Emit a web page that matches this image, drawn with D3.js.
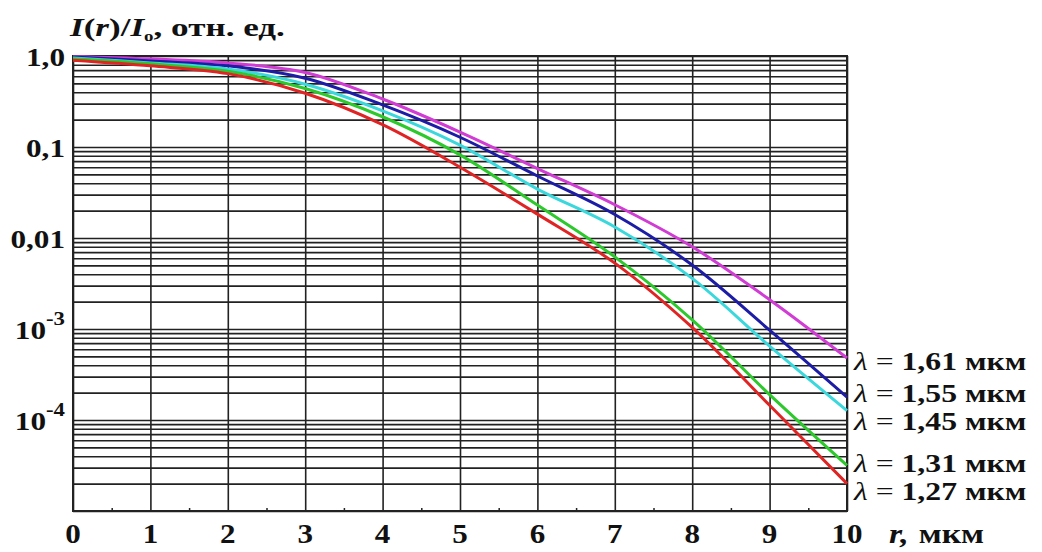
<!DOCTYPE html>
<html>
<head>
<meta charset="utf-8">
<script src="https://cdn.jsdelivr.net/npm/d3@7"></script>
<style>
  body { margin: 0; background: #fff; }
  text { font-family: "Liberation Serif", "Times New Roman", serif; font-weight: bold; fill: #111; }
</style>
</head>
<body>
<div id="container"></div>
<script>
// r, мкм
const rValues = [0, 1, 2, 3, 4, 5, 6, 7, 8, 9, 10];
// I(r)/Io for each wavelength
const lambda161 = [0.99, 0.93, 0.84, 0.66, 0.337, 0.146, 0.058, 0.0232, 0.0080, 0.0021, 0.00048];
const lambda155 = [0.975, 0.88, 0.78, 0.57, 0.29, 0.128, 0.048, 0.0181, 0.00504, 0.00097, 0.000178];
const lambda145 = [0.95, 0.84, 0.72, 0.49, 0.25, 0.105, 0.0345, 0.0132, 0.0036, 0.00065, 0.000127];
const lambda131 = [0.93, 0.82, 0.68, 0.44, 0.215, 0.082, 0.023, 0.0062, 0.00126, 0.00019, 0.0000317];
const lambda127 = [0.90, 0.78, 0.64, 0.39, 0.176, 0.060, 0.0183, 0.0053, 0.00104, 0.000145, 0.00002];
const seriesNames = ["1,61", "1,55", "1,45", "1,31", "1,27"];
const xTickLabels = ["0", "1", "2", "3", "4", "5", "6", "7", "8", "9", "10"];
const yTickValues = [1, 0.1, 0.01, 0.001, 0.0001];
const yTickBase = ["1,0", "0,1", "0,01", "10", "10"];
const yTickExp = ["", "", "", "-3", "-4"];

const series = [lambda161, lambda155, lambda145, lambda131, lambda127];
const colors = ["#d03cd4", "#1c1ca6", "#3ad8dc", "#2cc82c", "#e02424"];

const width = 1042, height = 552;
const plotLeft = 73, plotRight = 847, plotTop = 56, plotBottom = 511;

const x = d3.scaleLinear().domain([0, 10]).range([plotLeft, plotRight]);
const y = d3.scaleLog().domain([1e-5, 1]).range([plotBottom, plotTop]);

const svg = d3.select("#container").append("svg")
  .attr("width", width)
  .attr("height", height);

// horizontal log grid
const hgrid = svg.append("g")
  .attr("transform", `translate(${plotLeft},0)`)
  .call(d3.axisLeft(y).tickSize(-(plotRight - plotLeft)).tickFormat(""));
hgrid.select(".domain").remove();
hgrid.selectAll("line").attr("stroke", "#222").attr("stroke-width", 1.6);

// vertical grid
const vgrid = svg.append("g")
  .attr("transform", `translate(0,${plotBottom})`)
  .call(d3.axisBottom(x).tickValues(rValues).tickSize(-(plotBottom - plotTop)).tickFormat(""));
vgrid.select(".domain").remove();
vgrid.selectAll("line").attr("stroke", "#222").attr("stroke-width", 1.6);

// small half ticks on bottom
const minor = svg.append("g")
  .attr("transform", `translate(0,${plotBottom})`)
  .call(d3.axisBottom(x).tickValues(d3.range(0.5, 10, 1)).tickSize(-3).tickFormat(""));
minor.select(".domain").remove();
minor.selectAll("line").attr("stroke", "#222").attr("stroke-width", 1.5);

svg.append("rect")
  .attr("x", plotLeft).attr("y", plotTop)
  .attr("width", plotRight - plotLeft).attr("height", plotBottom - plotTop)
  .attr("fill", "none").attr("stroke", "#222").attr("stroke-width", 2);

// curves
const line = d3.line()
  .x((d, i) => x(rValues[i]))
  .y(d => y(d))
  .curve(d3.curveCatmullRom.alpha(0.5));

svg.append("g").selectAll("path")
  .data(series)
  .join("path")
  .attr("d", line)
  .attr("fill", "none")
  .attr("stroke", (d, i) => colors[i])
  .attr("stroke-width", 3);

// y labels (text in the picture is stretched sideways)
const yl = svg.append("g").selectAll("text")
  .data(yTickValues)
  .join("text")
  .attr("transform", d => `translate(65,${y(d) + 1}) scale(1.2,1)`)
  .attr("text-anchor", "end")
  .attr("dominant-baseline", "central")
  .style("font-size", "26px");
yl.append("tspan").text((d, i) => yTickBase[i]);
yl.append("tspan")
  .attr("dy", -11)
  .style("font-size", "19px")
  .text((d, i) => yTickExp[i]);

// x labels
svg.append("g").selectAll("text")
  .data(rValues)
  .join("text")
  .attr("transform", d => `translate(${x(d)},543) scale(1.15,1)`)
  .attr("text-anchor", "middle")
  .style("font-size", "27px")
  .text((d, i) => xTickLabels[i]);

const xt = svg.append("text")
  .attr("transform", "translate(889,543) scale(1.25,1)")
  .style("font-size", "27px");
xt.append("tspan").style("font-style", "italic").text("r,");
xt.append("tspan").attr("dx", 8).text("мкм");

// title
const tt = svg.append("text")
  .attr("transform", "translate(70,36) scale(1.35,1)")
  .style("font-size", "26px");
tt.append("tspan").style("font-style", "italic").text("I");
tt.append("tspan").text("(");
tt.append("tspan").style("font-style", "italic").text("r");
tt.append("tspan").text(")/");
tt.append("tspan").style("font-style", "italic").text("I");
tt.append("tspan").attr("dy", 5).style("font-size", "14px").text("o");
tt.append("tspan").attr("dy", -5).text(", отн. ед.");

// labels at curve ends, pushed apart so they do not overlap
const minGap = 28;
const labels = series.map((s, i) => ({ name: seriesNames[i], y: y(s[s.length - 1]) + 3 }));
for (let k = 0; k < 30; k++) {
  for (let i = 1; i < labels.length; i++) {
    const gap = labels[i].y - labels[i - 1].y;
    if (gap < minGap) {
      const shift = (minGap - gap) / 2;
      labels[i].y += shift;
      labels[i - 1].y -= shift;
    }
  }
}

const lg = svg.append("g").selectAll("text")
  .data(labels)
  .join("text")
  .attr("transform", d => `translate(854,${d.y}) scale(1.22,1)`)
  .attr("dominant-baseline", "central")
  .style("font-size", "26px");
lg.append("tspan").style("font-style", "italic").style("font-weight", "normal").text("λ");
lg.append("tspan").style("font-weight", "normal").text(" = ");
lg.append("tspan").text(d => d.name);
lg.append("tspan").text(" мкм");
</script>
</body>
</html>
